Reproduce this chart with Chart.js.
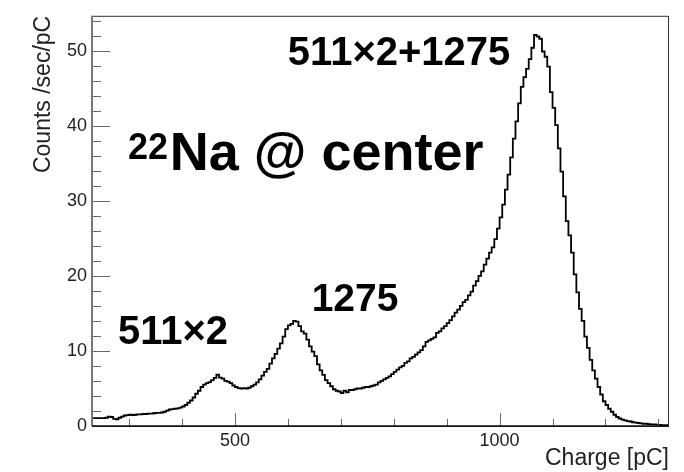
<!DOCTYPE html>
<html>
<head>
<meta charset="utf-8">
<script src="https://cdn.jsdelivr.net/npm/chart.js@4.4.1/dist/chart.umd.min.js"></script>
<style>
  html, body { margin: 0; padding: 0; background: #fff; }
</style>
</head>
<body>
<canvas id="c" width="684" height="472"></canvas>
<script>
/* ---------------- Data ---------------- */
const binLow = 230;        // pC, left edge of first bin
const binWidth = 5;        // pC per bin
// counts / sec / pC per bin, 230 .. 1320 pC
const counts = [
  1.05, 1.05, 1.05, 1.05, 1.05, 1.05, 1.1, 1.25, 1.2, 0.95,
  0.9, 1.1, 1.25, 1.4, 1.45, 1.5, 1.45, 1.5, 1.55, 1.55,
  1.6, 1.6, 1.65, 1.65, 1.7, 1.75, 1.75, 1.8, 1.9, 2.05,
  2.2, 2.25, 2.3, 2.35, 2.45, 2.6, 2.8, 3.1, 3.4, 3.8,
  4.3, 4.7, 5.2, 5.5, 5.7, 5.85, 6.1, 6.4, 6.85, 6.45,
  6.3, 6.0, 5.9, 5.7, 5.4, 5.2, 5.05, 5.0, 5.05, 5.0,
  5.1, 5.3, 5.5, 5.8, 6.2, 6.7, 7.2, 7.6, 8.3, 9.0,
  9.6, 10.3, 11.0, 11.9, 12.9, 13.4, 13.6, 14.0, 13.9, 13.3,
  12.6, 12.3, 11.5, 10.6, 9.9, 9.3, 8.2, 7.4, 6.8, 6.1,
  5.7, 5.3, 4.9, 4.7, 4.6, 4.4, 4.7, 4.5, 4.8, 4.8,
  4.9, 5.0, 5.0, 5.1, 5.2, 5.2, 5.3, 5.4, 5.5, 5.8,
  6.0, 6.2, 6.4, 6.6, 6.9, 7.2, 7.5, 7.8, 8.0, 8.4,
  8.6, 9.0, 9.2, 9.5, 9.8, 10.1, 10.6, 11.2, 11.4, 11.6,
  11.8, 12.4, 12.6, 13.0, 13.3, 13.7, 14.1, 14.6, 15.1, 15.5,
  16.0, 16.5, 16.8, 17.4, 17.9, 18.7, 19.3, 20.0, 20.6, 21.5,
  22.3, 23.1, 23.8, 24.9, 26.3, 27.8, 29.5, 31.5, 33.5, 35.8,
  38.3, 40.6, 43.0, 45.2, 46.5, 47.6, 48.9, 50.4, 52.1, 51.9,
  51.6, 49.9, 49.2, 47.9, 44.5, 42.4, 40.1, 37.0, 33.9, 30.6,
  27.3, 25.4, 23.1, 20.2, 17.8, 15.6, 14.0, 11.9, 10.4, 8.8,
  7.4, 6.3, 5.2, 4.2, 3.3, 2.8, 2.3, 1.9, 1.5, 1.2,
  1.0, 0.85, 0.75, 0.65, 0.6, 0.5, 0.45, 0.4, 0.35, 0.3,
  0.3, 0.25, 0.22, 0.2, 0.18, 0.15, 0.12, 0.1
];
const xRange = [230, 1320];
const yRange = [0, 54.66];
const xTickValues = [300, 400, 500, 600, 700, 800, 900, 1000, 1100, 1200, 1300];
const xLabelled = [500, 1000];
const yStep = 10;

/* ---------------- Helpers ---------------- */
const FONT = "'Liberation Sans', Arial, Helvetica, sans-serif";

// histogram outline: one point per left bin edge, plus the closing right edge
const histPoints = counts.map((v, i) => ({ x: binLow + i * binWidth, y: v }));
histPoints.push({ x: binLow + counts.length * binWidth, y: counts[counts.length - 1] });

/* ---------------- Frame + inner ticks (ROOT look) ---------------- */
const rootFrame = {
  id: "rootFrame",
  afterDatasetsDraw(chart){
    const { ctx, chartArea: a, scales: { x, y } } = chart;
    ctx.save();
    // y ticks, every 2 units, major every 10
    ctx.strokeStyle = "#666"; ctx.lineWidth = 1;
    for (let v = 0; v <= yRange[1]; v += 2){
      const py = Math.round(y.getPixelForValue(v)) + 0.5;
      const len = v % yStep === 0 ? 18 : 9;
      ctx.beginPath(); ctx.moveTo(a.left, py); ctx.lineTo(a.left + len, py); ctx.stroke();
    }
    // x ticks, every 100, major at labelled values
    for (const t of x.ticks){
      const px = Math.round(x.getPixelForValue(t.value)) + 0.5;
      const len = xLabelled.includes(t.value) ? 13 : 7;
      ctx.beginPath(); ctx.moveTo(px, a.bottom); ctx.lineTo(px, a.bottom - len); ctx.stroke();
    }
    // frame
    ctx.strokeStyle = "#333"; ctx.lineWidth = 1;
    ctx.strokeRect(a.left + 0.5, a.top + 0.5, a.right - a.left - 1, a.bottom - a.top);
    ctx.strokeStyle = "#777"; ctx.lineWidth = 2;
    ctx.beginPath(); ctx.moveTo(a.left, a.top); ctx.lineTo(a.left, a.bottom); ctx.stroke();
    ctx.strokeStyle = "#111"; ctx.lineWidth = 1.5;
    ctx.beginPath(); ctx.moveTo(a.left, a.bottom); ctx.lineTo(a.right, a.bottom); ctx.stroke();
    ctx.restore();
  }
};

/* ---------------- Peak annotations ---------------- */
const notes = {
  id: "notes",
  afterDraw(chart){
    const { ctx, scales: { x, y } } = chart;
    ctx.save();
    ctx.fillStyle = "#000";
    ctx.textAlign = "left";
    ctx.textBaseline = "alphabetic";
    const put = (txt, xv, yv, size) => {
      ctx.font = `bold ${size}px ${FONT}`;
      ctx.fillText(txt, x.getPixelForValue(xv), y.getPixelForValue(yv));
    };
    put("511×2", 279, 10.95, 40);
    put("1275", 645, 15.3, 39);
    put("511×2+1275", 600, 48.1, 40);
    put("22", 298, 35.6, 36);
    put("Na @ center", 377, 34.1, 54);
    ctx.restore();
  }
};

/* ---------------- Chart ---------------- */
new Chart(document.getElementById("c").getContext("2d"), {
  type: "line",
  data: {
    datasets: [{
      data: histPoints,
      stepped: "after",
      borderColor: "#000",
      borderWidth: 1.8,
      pointRadius: 0,
      fill: false
    }]
  },
  options: {
    responsive: false,
    animation: false,
    layout: { padding: { top: 12, right: 15, left: 0, bottom: 0 } },
    plugins: { legend: { display: false }, tooltip: { enabled: false } },
    scales: {
      x: {
        type: "linear",
        min: xRange[0], max: xRange[1],
        grid: { display: false, drawTicks: false },
        border: { display: false },
        afterBuildTicks: s => { s.ticks = xTickValues.map(v => ({ value: v })); },
        ticks: {
          autoSkip: false, maxRotation: 0,
          padding: 4, color: "#222", font: { family: FONT, size: 18 },
          callback: v => xLabelled.includes(v) ? String(v) : ""
        },
        title: {
          display: true, text: "Charge [pC]", align: "end", color: "#222",
          font: { family: FONT, size: 23 }, padding: { top: 0, bottom: 0 }
        },
        afterFit: s => { s.height = 46; }
      },
      y: {
        min: yRange[0], max: yRange[1],
        grid: { display: false, drawTicks: false },
        border: { display: false },
        ticks: {
          stepSize: yStep, includeBounds: false,
          padding: 5, color: "#222", font: { family: FONT, size: 18 }
        },
        title: {
          display: true, text: "Counts /sec/pC", align: "end", color: "#222",
          font: { family: FONT, size: 23 }, padding: { top: 30, bottom: 0 }
        },
        afterFit: s => { s.width = 92; }
      }
    }
  },
  plugins: [rootFrame, notes]
});
</script>
</body>
</html>
